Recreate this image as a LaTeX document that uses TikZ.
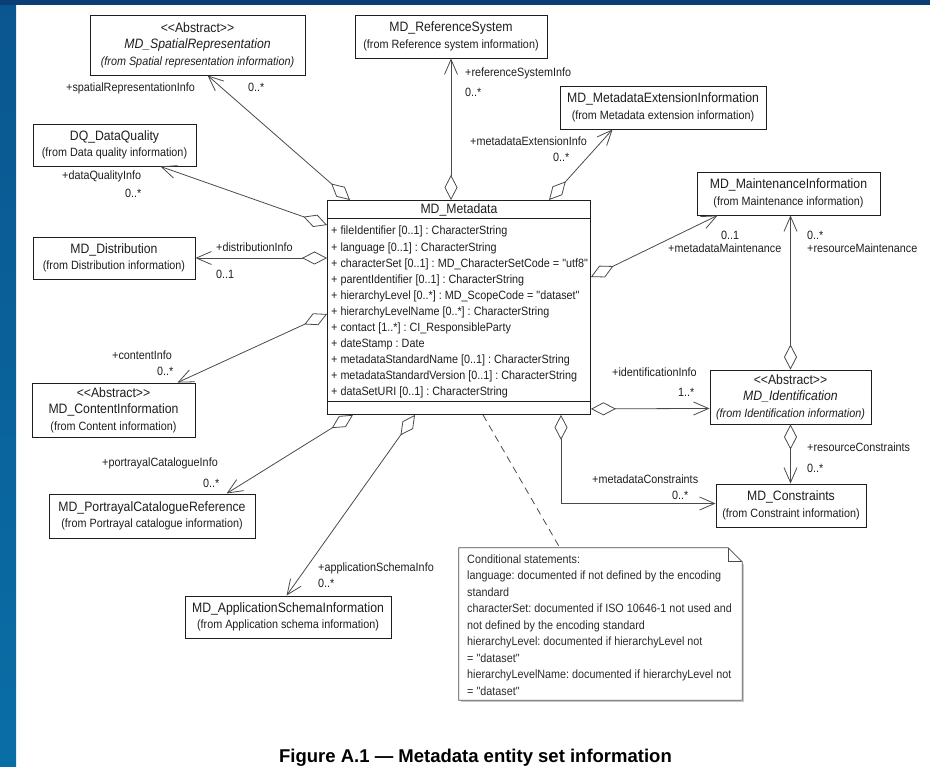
\documentclass[tikz,border=0pt]{standalone}
\usepackage{fontspec}
\usetikzlibrary{arrows.meta,calc}
\newfontfamily\umlfont[FakeStretch=0.9]{Liberation Sans}
\newfontfamily\captionfont{Liberation Sans}
\frenchspacing
\definecolor{framenavy}{HTML}{0B3E74}
\definecolor{frametop}{HTML}{0A5690}
\definecolor{framebottom}{HTML}{0A6EA6}
\definecolor{ink}{HTML}{1E1E1E}
\definecolor{wire}{HTML}{4A4A4A}
\definecolor{notefg}{HTML}{2C2C2C}

\tikzset{
  classbox/.style={draw=ink, line width=0.9pt, fill=white, inner sep=0pt, align=center,
    text=ink, font=\umlfont\fontsize{12}{16.5}\selectfont},
  lbl/.style={anchor=base west, inner sep=0pt, text=ink, font=\umlfont\fontsize{12}{14}\selectfont},
  attr/.style={anchor=base west, inner sep=0pt, text=ink, font=\umlfont\fontsize{12}{14}\selectfont},
  notetext/.style={anchor=base west, inner sep=0pt, text=notefg, font=\umlfont\fontsize{12}{14}\selectfont},
  assoc/.style={draw=wire, line width=0.8pt,
    {Diamond[open, length=25pt, width=13pt]}-{Straight Barb[length=15pt, width=13pt]}},
  notelink/.style={draw=wire, line width=0.8pt, dash pattern=on 7pt off 5pt},
}
\newcommand{\cname}[1]{{\fontsize{13.6}{16.5}\selectfont #1}}

\begin{document}
\begin{tikzpicture}[x=1pt, y=-1pt]
  \useasboundingbox (0,0) rectangle (930,767);

  % page frame
  \shade[top color=frametop, bottom color=framebottom] (0,0) rectangle (16,767);
  \fill[framenavy] (0,0) rectangle (930,5);

  % central class
  \node[draw=ink, line width=0.9pt, fill=white, minimum width=263pt, minimum height=214pt,
        inner sep=0pt, anchor=north west] (meta) at (327,200) {};
  \draw[ink, line width=0.9pt] ($(meta.north west)+(0,18)$) -- ($(meta.north east)+(0,18)$);
  \draw[ink, line width=0.9pt] ($(meta.south west)+(0,-13)$) -- ($(meta.south east)+(0,-13)$);
  \node[anchor=base, inner sep=0pt, text=ink, font=\umlfont\fontsize{13.6}{16}\selectfont]
       (metaname) at ($(meta.north)+(0,14)$) {MD\_Metadata};
  \foreach \txt [count=\i from 0] in {
      {+ fileIdentifier [0..1] : CharacterString},
      {+ language [0..1] : CharacterString},
      {+ characterSet [0..1] : MD\_CharacterSetCode = "utf8"},
      {+ parentIdentifier [0..1] : CharacterString},
      {+ hierarchyLevel [0..*] : MD\_ScopeCode = "dataset"},
      {+ hierarchyLevelName [0..*] : CharacterString},
      {+ contact [1..*] : CI\_ResponsibleParty},
      {+ dateStamp : Date},
      {+ metadataStandardName [0..1] : CharacterString},
      {+ metadataStandardVersion [0..1] : CharacterString},
      {+ dataSetURI [0..1] : CharacterString}}
    {\node[attr] (attr\i) at (331, 235+16.1*\i) {\txt};}

  % surrounding classes
  \node[classbox, minimum width=215pt, minimum height=60pt] (spat) at (197.5,45)
    {\cname{<\kern0pt<Abstract>\kern0pt>}\\ \itshape\cname{MD\_SpatialRepresentation}\\ \itshape(from Spatial representation information)};
  \node[classbox, minimum width=192pt, minimum height=43pt] (refsys) at (451,36.5)
    {\cname{MD\_ReferenceSystem}\\ (from Reference system information)};
  \node[classbox, minimum width=206pt, minimum height=43pt] (mdext) at (663,107.5)
    {\cname{MD\_MetadataExtensionInformation}\\ (from Metadata extension information)};
  \node[classbox, minimum width=163pt, minimum height=42pt] (dq) at (114.5,145)
    {\cname{DQ\_DataQuality}\\ (from Data quality information)};
  \node[classbox, minimum width=183pt, minimum height=43pt] (maint) at (788.5,193.5)
    {\cname{MD\_MaintenanceInformation}\\ (from Maintenance information)};
  \node[classbox, minimum width=162pt, minimum height=42pt] (dist) at (114,258)
    {\cname{MD\_Distribution}\\ (from Distribution information)};
  \node[classbox, minimum width=163pt, minimum height=54pt] (content) at (113.5,410)
    {\cname{<\kern0pt<Abstract>\kern0pt>}\\ \cname{MD\_ContentInformation}\\ (from Content information)};
  \node[classbox, minimum width=161pt, minimum height=54pt] (ident) at (790.5,397)
    {\cname{<\kern0pt<Abstract>\kern0pt>}\\ \itshape\cname{MD\_Identification}\\ \itshape(from Identification information)};
  \node[classbox, minimum width=150pt, minimum height=43pt] (constr) at (791,505.5)
    {\cname{MD\_Constraints}\\ (from Constraint information)};
  \node[classbox, minimum width=206pt, minimum height=44pt] (portr) at (152,516)
    {\cname{MD\_PortrayalCatalogueReference}\\ (from Portrayal catalogue information)};
  \node[classbox, minimum width=206pt, minimum height=42pt] (appl) at (288,617)
    {\cname{MD\_ApplicationSchemaInformation}\\ (from Application schema information)};

  % note with folded corner
  \node[minimum width=283pt, minimum height=152pt, inner sep=0pt] (note) at (600.5,624) {};
  \draw[gray!45, line width=1.4pt] ($(note.south west)+(2,1.5)$) -- ($(note.south east)+(1.5,1.5)$)
        -- ($(note.north east)+(1.5,16)$);
  \draw[wire, line width=0.8pt, fill=white] (note.north west) -- ($(note.north east)+(-14,0)$)
        -- ($(note.north east)+(0,14)$) -- (note.south east) -- (note.south west) -- cycle;
  \draw[wire, line width=0.8pt] ($(note.north east)+(-14,0)$) |- ($(note.north east)+(0,14)$);
  \foreach \txt [count=\i from 0] in {
      {Conditional statements:},
      {language: documented if not defined by the encoding},
      {standard},
      {characterSet: documented if ISO 10646-1 not used and},
      {not defined by the encoding standard},
      {hierarchyLevel: documented if hierarchyLevel not},
      {= "dataset"},
      {hierarchyLevelName: documented if hierarchyLevel not},
      {= "dataset"}}
    {\node[notetext] (nline\i) at (467, 563+16.5*\i) {\txt};}

  % associations (aggregate end at MD_Metadata)
  \draw[assoc] ($(meta.north west)+(23,0)$) -- ($(spat.south west)+(118,0)$);
  \draw[assoc] ($(meta.north west)+(124,0)$) -- (refsys.south);
  \draw[assoc] ($(meta.north west)+(222,0)$) -- ($(mdext.south west)+(53,0)$);
  \draw[assoc] ($(meta.north west)+(0,25)$) -- ($(dq.south east)+(-36,0)$);
  \draw[assoc] (meta.west |- dist.east) -- (dist.east);
  \draw[assoc] ($(meta.north west)+(0,114)$) -- ($(content.north west)+(146,0)$);
  \draw[assoc] ($(meta.south west)+(26,0)$) -- ($(portr.north west)+(178,0)$);
  \draw[assoc] ($(meta.south west)+(88,0)$) -- ($(appl.north west)+(102,0)$);
  \draw[assoc] ($(meta.north east)+(0,77)$) -- ($(maint.south west)+(21,0)$);
  \draw[assoc] ($(meta.south east)+(0,-6)$) -- ($(ident.south west)+(0,-16)$);
  \draw[assoc] ($(meta.south west)+(234,0)$) |- ($(constr.west)+(0,-2)$);
  \draw[assoc] (ident.north) -- (ident.north |- maint.south);
  \draw[assoc] (ident.south) -- (ident.south |- constr.north);
  \draw[notelink] ($(meta.south west)+(156,0)$) -- ($(note.north west)+(101,0)$);

  % role names and multiplicities
  \node[lbl] (l1) at (66,92) {+spatialRepresentationInfo};
  \node[lbl] (l2) at (248,92) {0..*};
  \node[lbl] (l3) at (465,77) {+referenceSystemInfo};
  \node[lbl] (l4) at (465,97) {0..*};
  \node[lbl] (l5) at (470,146) {+metadataExtensionInfo};
  \node[lbl] (l6) at (553,162) {0..*};
  \node[lbl] (l7) at (62,180) {+dataQualityInfo};
  \node[lbl] (l8) at (125,198) {0..*};
  \node[lbl] (l9) at (216,252) {+distributionInfo};
  \node[lbl] (l10) at (216,279) {0..1};
  \node[lbl] (l11) at (721,240) {0..1};
  \node[lbl] (l12) at (668,253) {+metadataMaintenance};
  \node[lbl] (l13) at (807,240) {0..*};
  \node[lbl] (l14) at (807,253) {+resourceMaintenance};
  \node[lbl] (l15) at (112,360) {+contentInfo};
  \node[lbl] (l16) at (157,376) {0..*};
  \node[lbl] (l17) at (612,377) {+identificationInfo};
  \node[lbl] (l18) at (678,397) {1..*};
  \node[lbl] (l19) at (807,452) {+resourceConstraints};
  \node[lbl] (l20) at (807,473) {0..*};
  \node[lbl] (l21) at (592,484) {+metadataConstraints};
  \node[lbl] (l22) at (672,500) {0..*};
  \node[lbl] (l23) at (102,467) {+portrayalCatalogueInfo};
  \node[lbl] (l24) at (203,487) {0..*};
  \node[lbl] (l25) at (318,571) {+applicationSchemaInfo};
  \node[lbl] (l26) at (318,587) {0..*};

  % caption
  \node[anchor=base, inner sep=0pt, text=black, font=\captionfont\bfseries\fontsize{18.5}{20}\selectfont]
       (caption) at (475.5,762) {Figure A.1 — Metadata entity set information};
\end{tikzpicture}
\end{document}
